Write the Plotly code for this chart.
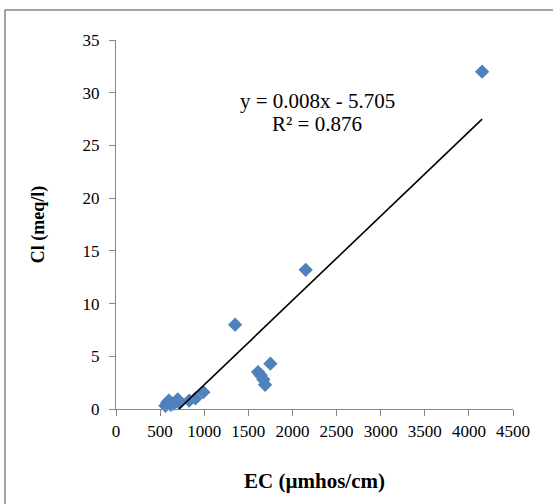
import plotly.graph_objects as go

# Electrical conductivity (µmhos/cm) and chloride (meq/l) per sample
ec = [560, 580, 600, 620, 650, 680, 700, 720, 830, 900, 990,
      1350, 1610, 1640, 1670, 1690, 1750, 2150, 4150]
cl = [0.3, 0.6, 0.8, 0.4, 0.5, 0.7, 0.9, 0.6, 0.8, 1.0, 1.6,
      8.0, 3.5, 3.2, 2.8, 2.3, 4.3, 13.2, 32.0]

# Linear trend coefficients
slope = 0.008
intercept = -5.705
r2 = 0.876

x_ticks = list(range(0, 4501, 500))
y_ticks = list(range(0, 36, 5))

W, H = 553, 504
L, R, T, B = 116, 40, 40, 95

fig = go.Figure()

fig.add_trace(go.Scatter(
    x=ec, y=cl, mode="markers",
    marker=dict(symbol="diamond", size=11, color="#4F81BD",
                line=dict(width=0)),
    showlegend=False, cliponaxis=False,
))

x_line = [min(ec), max(ec)]
y_line = [slope * v + intercept for v in x_line]
fig.add_trace(go.Scatter(
    x=x_line, y=y_line, mode="lines",
    line=dict(color="black", width=1.6),
    showlegend=False,
))

serif = "Liberation Serif, Times New Roman, serif"
axis_style = dict(
    showline=True, linecolor="#868686", linewidth=1.3,
    ticks="outside", ticklen=6, tickcolor="#868686", tickwidth=1.3,
    showgrid=False, zeroline=False,
    tickfont=dict(family=serif, size=17, color="black"),
)

fig.update_xaxes(range=[0, 4500], tickvals=x_ticks, **axis_style,
                 title=dict(text="<b>EC (µmhos/cm)</b>",
                            font=dict(family=serif, size=21, color="black"),
                            standoff=33))
fig.update_yaxes(range=[0, 35], tickvals=y_ticks, **axis_style,
                 ticklabelstandoff=6,
                 title=dict(text="<b>Cl (meq/l)</b>",
                            font=dict(family=serif, size=18, color="black"),
                            standoff=33))

pw, ph = W - L - R, H - T - B
fig.add_annotation(
    xref="paper", yref="paper", xanchor="center", yanchor="middle",
    x=(317 - L) / pw, y=(H - B - 101) / ph,
    text=f"y = {slope:.3f}x - {abs(intercept):.3f}",
    showarrow=False, font=dict(family=serif, size=21, color="black"),
)
fig.add_annotation(
    xref="paper", yref="paper", xanchor="center", yanchor="middle",
    x=(317 - L) / pw, y=(H - B - 124) / ph,
    text=f"R² = {r2:.3f}",
    showarrow=False, font=dict(family=serif, size=21, color="black"),
)

# Chart frame
fig.add_shape(
    type="rect", xref="paper", yref="paper",
    x0=(5 - L) / pw, x1=(W + 20 - L) / pw,
    y0=-(H + 20 - (H - B)) / ph, y1=(H - B - 10) / ph,
    line=dict(color="#878787", width=1.5), layer="below",
)

fig.update_layout(
    width=W, height=H,
    margin=dict(l=L, r=R, t=T, b=B),
    paper_bgcolor="white", plot_bgcolor="white",
)

fig.write_html("out.html")
